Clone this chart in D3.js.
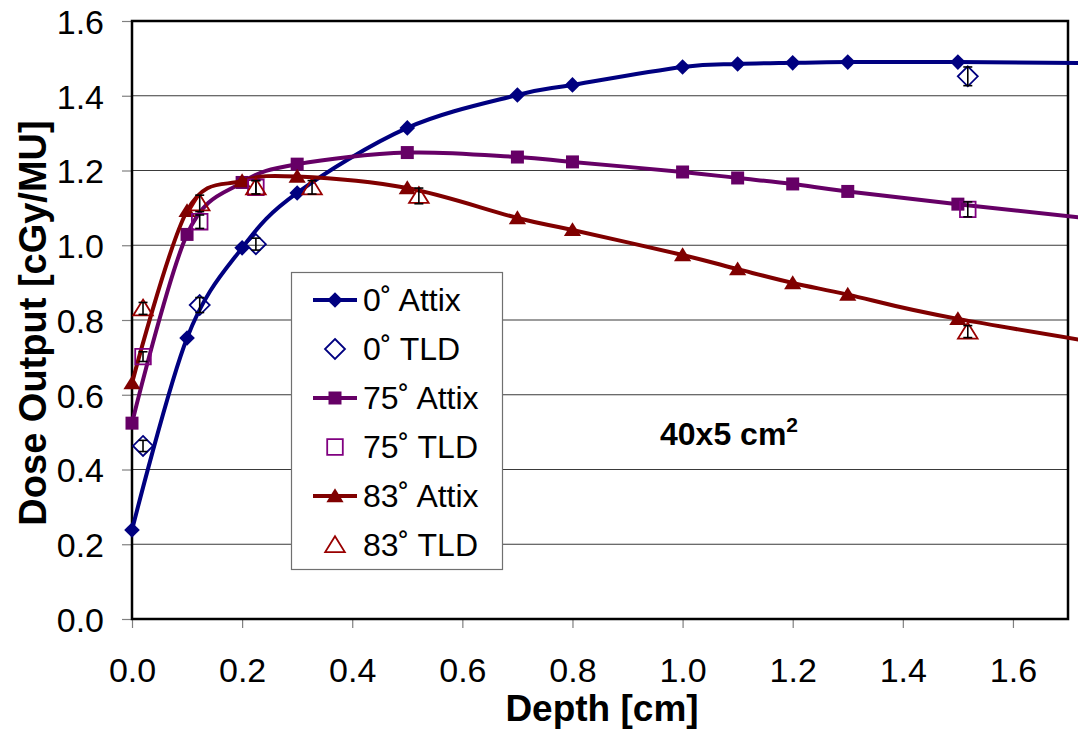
<!DOCTYPE html>
<html>
<head>
<meta charset="utf-8">
<script src="https://cdn.jsdelivr.net/npm/d3@7"></script>
<style>
  html, body { margin: 0; padding: 0; background: #fff; }
  svg { display: block; font-family: "Liberation Sans", Arial, sans-serif; }
</style>
</head>
<body>
<svg id="chart" width="1078" height="732"></svg>
<script>
// Depth-dose output for a 40x5 cm2 field at three beam angles

// Ion-chamber (Attix) depths [cm]
const attixDepth = [0, 0.1, 0.2, 0.3, 0.5, 0.7, 0.8, 1.0, 1.1, 1.2, 1.3, 1.5, 2.0];
const attix0  = [0.238, 0.752, 0.993, 1.140, 1.314, 1.402, 1.429, 1.477, 1.485, 1.488, 1.490, 1.490, 1.484];
const attix75 = [0.524, 1.029, 1.168, 1.217, 1.248, 1.236, 1.223, 1.196, 1.180, 1.164, 1.144, 1.110, 1.030];
const attix83 = [0.631, 1.092, 1.172, 1.184, 1.153, 1.073, 1.041, 0.974, 0.936, 0.899, 0.868, 0.803, 0.680];

// TLD measurements with uncertainties
const tldDepth0  = [0.02, 0.123, 0.225, 1.518];
const tld0       = [0.463, 0.840, 1.003, 1.452];
const tldErr0    = [0.015, 0.020, 0.016, 0.025];
const tldDepth75 = [0.02, 0.123, 0.225, 1.518];
const tld75      = [0.702, 1.063, 1.155, 1.096];
const tldErr75   = [0.013, 0.018, 0.018, 0.020];
const tldDepth83 = [0.02, 0.123, 0.225, 0.327, 0.521, 1.518];
const tld83      = [0.831, 1.112, 1.155, 1.155, 1.132, 0.769];
const tldErr83   = [0.016, 0.022, 0.018, 0.018, 0.021, 0.016];

const xTicks = [0, 0.2, 0.4, 0.6, 0.8, 1.0, 1.2, 1.4, 1.6];
const yTicks = [0, 0.2, 0.4, 0.6, 0.8, 1.0, 1.2, 1.4, 1.6];

const legendLabels = ["0˚ Attix", "0˚ TLD", "75˚ Attix", "75˚ TLD", "83˚ Attix", "83˚ TLD"];

const colors = { a0: "#000080", a75: "#660066", a83: "#800000" };

// Marker shapes (size = half width)
const diamond = { draw(ctx, s) { ctx.moveTo(0, -s); ctx.lineTo(s, 0); ctx.lineTo(0, s); ctx.lineTo(-s, 0); ctx.closePath(); } };
const square  = { draw(ctx, s) { ctx.rect(-s, -s, 2 * s, 2 * s); } };
const triangle = { draw(ctx, s) { const h = s * 0.9; ctx.moveTo(0, -h); ctx.lineTo(s, h * 0.8); ctx.lineTo(-s, h * 0.8); ctx.closePath(); } };

const svg = d3.select("#chart");
const plotL = 132, plotR = 1068, plotT = 21, plotB = 619;

const x = d3.scaleLinear().domain([0, 1.7]).range([plotL, plotR]);
const y = d3.scaleLinear().domain([0, 1.6]).range([plotB, plotT]);

svg.append("rect").attr("width", 1078).attr("height", 732).attr("fill", "#fff");

// Gridlines
svg.append("g").selectAll("line")
  .data(yTicks.filter(v => v > 0 && v < 1.6))
  .join("line")
  .attr("x1", plotL).attr("x2", plotR)
  .attr("y1", d => y(d)).attr("y2", d => y(d))
  .attr("stroke", "#3a3a3a").attr("stroke-width", 1.1);

// Axes
const yAxis = svg.append("g").attr("transform", `translate(${plotL},0)`)
  .call(d3.axisLeft(y).tickValues(yTicks).tickFormat(d3.format(".1f")).tickSize(10).tickPadding(18));
const xAxis = svg.append("g").attr("transform", `translate(0,${plotB})`)
  .call(d3.axisBottom(x).tickValues(xTicks).tickFormat(d3.format(".1f")).tickSize(9).tickPadding(30));
[yAxis, xAxis].forEach(g => {
  g.select(".domain").remove();
  g.selectAll(".tick line").attr("stroke", "#808080").attr("stroke-width", 1.2);
  g.selectAll(".tick text").attr("font-size", 34).attr("fill", "#000")
    .attr("font-family", "'Liberation Sans', Arial, sans-serif");
});
yAxis.selectAll(".tick text").attr("dy", "0.36em");

// Plot frame
svg.append("rect")
  .attr("x", plotL).attr("y", plotT).attr("width", plotR - plotL).attr("height", plotB - plotT)
  .attr("fill", "none").attr("stroke", "#000").attr("stroke-width", 2.5);

// Attix curves with markers
const line = d3.line().curve(d3.curveCardinal.tension(0)).x(d => x(d[0])).y(d => y(d[1]));
const attixSeries = [
  { vals: attix0,  color: colors.a0,  shape: diamond,  size: 7.8 },
  { vals: attix75, color: colors.a75, shape: square,   size: 6.5 },
  { vals: attix83, color: colors.a83, shape: triangle, size: 8.6 }
];
attixSeries.forEach(s => {
  const pts = attixDepth.map((d, i) => [d, s.vals[i]]);
  svg.append("path").datum(pts).attr("d", line)
    .attr("fill", "none").attr("stroke", s.color).attr("stroke-width", 4)
    .attr("stroke-linejoin", "round");
  svg.append("g").selectAll("path")
    .data(pts.filter(p => p[0] <= 1.7))
    .join("path")
    .attr("transform", p => `translate(${x(p[0])},${y(p[1])})`)
    .attr("d", d3.symbol().type(s.shape).size(s.size))
    .attr("fill", s.color);
});

// TLD points with error bars
const tldSeries = [
  { depth: tldDepth0,  vals: tld0,  err: tldErr0,  color: colors.a0,  shape: diamond,  size: 10 },
  { depth: tldDepth75, vals: tld75, err: tldErr75, color: "#800080",  shape: square,   size: 7.8 },
  { depth: tldDepth83, vals: tld83, err: tldErr83, color: "#990000",  shape: triangle, size: 9.8 }
];
tldSeries.forEach(s => {
  const pts = s.depth.map((d, i) => ({ d, v: s.vals[i], e: s.err[i] }));
  const g = svg.append("g");
  g.selectAll("path.m").data(pts).join("path").attr("class", "m")
    .attr("transform", p => `translate(${x(p.d)},${y(p.v)})`)
    .attr("d", d3.symbol().type(s.shape).size(s.size))
    .attr("fill", "none").attr("stroke", s.color).attr("stroke-width", 1.8);
  const eb = g.selectAll("g.eb").data(pts).join("g").attr("class", "eb")
    .attr("stroke", "#000").attr("stroke-width", 1.6);
  eb.append("line").attr("x1", p => x(p.d)).attr("x2", p => x(p.d))
    .attr("y1", p => y(p.v - p.e)).attr("y2", p => y(p.v + p.e));
  eb.append("line").attr("x1", p => x(p.d) - 4.5).attr("x2", p => x(p.d) + 4.5)
    .attr("y1", p => y(p.v - p.e)).attr("y2", p => y(p.v - p.e));
  eb.append("line").attr("x1", p => x(p.d) - 4.5).attr("x2", p => x(p.d) + 4.5)
    .attr("y1", p => y(p.v + p.e)).attr("y2", p => y(p.v + p.e));
});

// Legend
const legend = svg.append("g");
legend.append("rect").attr("x", 291.5).attr("y", 272.5).attr("width", 211).attr("height", 297)
  .attr("fill", "#fff").attr("stroke", "#707070").attr("stroke-width", 1.2);
const legendItems = [
  { line: true,  color: colors.a0,  shape: diamond,  size: 7.8 },
  { line: false, color: colors.a0,  shape: diamond,  size: 10 },
  { line: true,  color: colors.a75, shape: square,   size: 6.5 },
  { line: false, color: "#800080",  shape: square,   size: 7.8 },
  { line: true,  color: colors.a83, shape: triangle, size: 8.6 },
  { line: false, color: "#990000",  shape: triangle, size: 9.8 }
];
const legendY = d3.scalePoint().domain(d3.range(6)).range([300, 545]);
legendItems.forEach((it, i) => {
  const cy = legendY(i);
  if (it.line) {
    legend.append("line").attr("x1", 313).attr("x2", 357).attr("y1", cy).attr("y2", cy)
      .attr("stroke", it.color).attr("stroke-width", 4);
    legend.append("path").attr("transform", `translate(335,${cy})`)
      .attr("d", d3.symbol().type(it.shape).size(it.size)).attr("fill", it.color);
  } else {
    legend.append("path").attr("transform", `translate(335,${cy})`)
      .attr("d", d3.symbol().type(it.shape).size(it.size))
      .attr("fill", "none").attr("stroke", it.color).attr("stroke-width", 1.8);
  }
  legend.append("text").attr("x", 363).attr("y", cy + 11)
    .attr("font-size", 32).attr("fill", "#000").text(legendLabels[i]);
});

// Field size annotation
const ann = svg.append("text").attr("x", 660).attr("y", 445)
  .attr("font-size", 32).attr("font-weight", "bold").attr("fill", "#000");
ann.append("tspan").text("40x5 cm");
ann.append("tspan").attr("font-size", 21).attr("dy", -13).text("2");

// Axis titles
svg.append("text").attr("x", 602).attr("y", 721).attr("text-anchor", "middle")
  .attr("font-size", 37).attr("font-weight", "bold").attr("fill", "#000").text("Depth [cm]");
svg.append("text").attr("transform", "translate(46,323) rotate(-90)").attr("text-anchor", "middle")
  .attr("font-size", 38).attr("font-weight", "bold").attr("fill", "#000").text("Dose Output [cGy/MU]");
</script>
</body>
</html>
